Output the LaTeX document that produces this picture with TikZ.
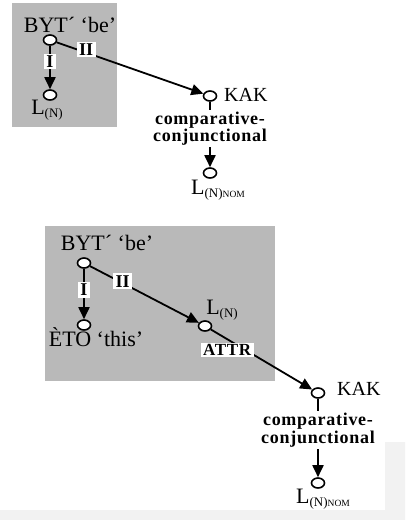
\documentclass[tikz,border=0pt]{standalone}
\usepackage{fontspec}
\setmainfont{Liberation Serif}
\newfontfamily\lblfont[LetterSpace=4]{Liberation Serif}
\usetikzlibrary{arrows.meta,shapes.geometric}
\definecolor{boxgray}{RGB}{185,185,185}
\definecolor{pagegray}{RGB}{242,242,242}
\newcommand{\Lsub}[1]{L\raisebox{-3pt}{\fontsize{13}{13}\selectfont(N)#1}}
\newcommand{\nomsc}{\fontsize{9.5}{9.5}\selectfont NOM}
\tikzset{
  vert/.style={ellipse,draw,fill=white,line width=1.6pt,minimum width=13pt,minimum height=10pt,inner sep=0pt},
  word/.style={inner sep=0pt,font=\fontsize{22}{22}\selectfont},
  lab/.style={fill=white,inner xsep=2.5pt,inner ysep=2pt,font=\bfseries\fontsize{18}{18}\selectfont},
  rel/.style={fill=white,inner xsep=1pt,inner ysep=2pt,align=center,font=\lblfont\bfseries\fontsize{18}{15.5}\selectfont},
  arr/.style={line width=1.8pt,-{Triangle[length=12pt,width=11pt]}},
  panel/.style={fill=boxgray,draw=none}
}
\begin{document}
\begin{tikzpicture}[x=1pt,y=-1pt]
\useasboundingbox (0,0) rectangle (405,520);
\fill[white] (0,0) rectangle (405,520);
\fill[pagegray] (385,442) -- (405,442) -- (405,520) -- (0,520) -- (0,510) -- (385,510) -- cycle;
% panels
\fill[panel] (12,3) rectangle (117,127);
\fill[panel] (45,226) rectangle (275,381);

% ---------- top diagram ----------
\node[word] (tbyt) at (70,25) {BYT´ ‘be’};
\node[vert] (tb) at (50,40) {};
\node[vert] (tl) at (50,95) {};
\node[word] (tltext) at (47,110) {\Lsub{}};
\node[vert] (tk) at (210,96) {};
\node[word,anchor=west] (tktext) at (224,95) {\fontsize{20}{20}\selectfont KAK};
\node[vert] (tn) at (210,173) {};
\node[word,anchor=north west] (tntext) at (191,180) {\Lsub{\nomsc}};

\draw[arr] (tb) -- node[lab,pos=0.36]{I} (tl);
\draw[arr] (tb) -- node[lab,pos=0.2,yshift=3pt]{II} (tk);
\draw[arr] (tk) -- node[rel,pos=0.41]{comparative-\\conjunctional} (tn);

% ---------- bottom diagram ----------
\node[word] (bbyt) at (107,243) {BYT´ ‘be’};
\node[vert] (bb) at (84,263) {};
\node[vert] (be) at (84,325) {};
\node[word] (betext) at (96,337) {ÈTO ‘this’};
\node[vert] (bl) at (205,326) {};
\node[word] (bltext) at (222,310) {\Lsub{}};
\node[vert] (bk) at (318,393) {};
\node[word,anchor=west] (bktext) at (337,389) {\fontsize{20}{20}\selectfont KAK};
\node[vert] (bn) at (318,483) {};
\node[word,anchor=north west] (bntext) at (296,489) {\Lsub{\nomsc}};

\draw[arr] (bb) -- node[lab,pos=0.42]{I} (be);
\draw[arr] (bb) -- node[lab,pos=0.3,yshift=2pt]{II} (bl);
\draw[arr] (bl) -- node[lab,pos=0.22,xshift=-6pt,yshift=-7pt,inner ysep=1.5pt,font=\lblfont\bfseries\fontsize{17}{17}\selectfont]{ATTR} (bk);
\draw[arr] (bk) -- node[rel,pos=0.40]{comparative-\\conjunctional} (bn);
\end{tikzpicture}
\end{document}
